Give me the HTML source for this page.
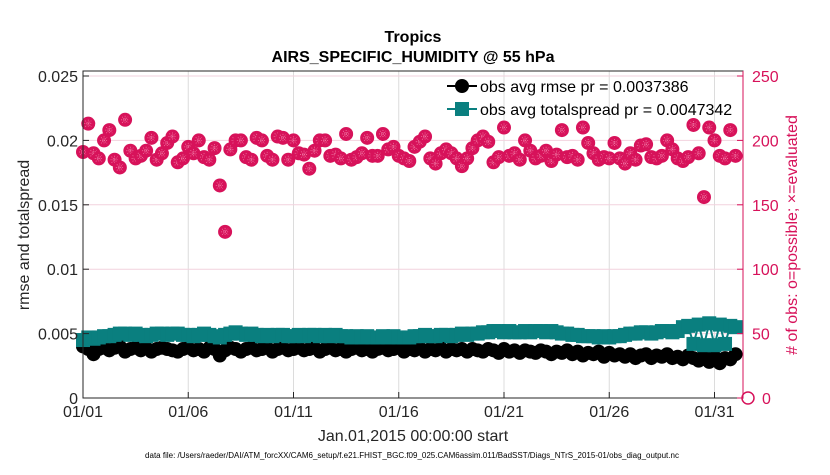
<!DOCTYPE html>
<html><head><meta charset="utf-8"><style>
body{margin:0;background:#fff;font-family:"Liberation Sans",sans-serif}
svg text{font-family:"Liberation Sans",sans-serif}
</style></head><body>
<svg width="830" height="470" viewBox="0 0 830 470" xmlns="http://www.w3.org/2000/svg">
<g id="grid"></g>
<g id="series"></g>
<g id="axes"></g>
</svg>
<script>
const dayTicks=["01/01","01/06","01/11","01/16","01/21","01/26","01/31"];
const tickDays=[0,5,10,15,20,25,30];
const leftTicks=[0,0.005,0.01,0.015,0.02,0.025];
const leftTickLabels=["0","0.005","0.01","0.015","0.02","0.025"];
const rightTicks=[0,50,100,150,200,250];
const obsCounts=[191,213,190,186,200,208,185,179,216,192,186,188,192,202,185,190,198,203,183,186,
195,190,200,187,185,194,165,129,193,200,200,187,185,202,200,188,185,203,202,185,
200,190,189,178,192,200,200,188,189,186,205,185,187,190,202,188,188,205,193,195,
188,186,184,195,199,203,186,182,190,193,190,186,180,186,194,200,203,199,183,187,
210,188,190,185,200,192,186,188,192,184,189,208,187,188,185,210,198,190,185,187,
186,198,186,182,190,185,196,197,187,186,188,200,193,186,184,187,212,190,156,210,
200,188,186,208,188];
const rmse=[0.0040,0.0038,0.0034,0.0038,0.0039,0.0037,0.0039,0.0040,0.0036,0.0038,0.0039,0.0037,0.0039,0.0036,0.0038,0.0039,0.0038,0.0037,0.0036,0.0038,
0.0039,0.0037,0.0038,0.0036,0.0039,0.0038,0.0033,0.0037,0.0039,0.0038,0.0036,0.0038,0.0039,0.0037,0.0038,0.0039,0.0036,0.0038,0.0039,0.0037,
0.0038,0.0039,0.0037,0.0038,0.0039,0.0036,0.0038,0.0039,0.0037,0.0038,0.0036,0.0038,0.0039,0.0037,0.0038,0.0036,0.0038,0.0039,0.0037,0.0038,
0.0039,0.0036,0.0038,0.0037,0.0039,0.0036,0.0038,0.0037,0.0039,0.0036,0.0038,0.0037,0.0038,0.0036,0.0038,0.0037,0.0036,0.0038,0.0037,0.0035,
0.0038,0.0036,0.0037,0.0035,0.0037,0.0036,0.0035,0.0037,0.0036,0.0034,0.0036,0.0035,0.0037,0.0034,0.0036,0.0033,0.0035,0.0034,0.0036,0.0032,
0.0035,0.0033,0.0034,0.0032,0.0034,0.0031,0.0033,0.0034,0.0031,0.0033,0.0032,0.0034,0.0031,0.0032,0.0030,0.0033,0.0031,0.0029,0.0033,0.0028,
0.0032,0.0027,0.0031,0.0030,0.0034];
const spread=[0.0045,0.0047,0.0046,0.0047,0.0048,0.0048,0.0049,0.0050,0.0050,0.0049,0.0050,0.0049,0.0048,0.0049,0.0050,0.0050,0.0049,0.0050,0.0050,0.0049,
0.0049,0.0048,0.0049,0.0050,0.0049,0.0048,0.0047,0.0049,0.0050,0.0051,0.0050,0.0049,0.0050,0.0049,0.0048,0.0049,0.0048,0.0049,0.0049,0.0048,
0.0048,0.0049,0.0048,0.0049,0.0049,0.0048,0.0049,0.0048,0.0049,0.0048,0.0048,0.0047,0.0048,0.0047,0.0048,0.0047,0.0047,0.0048,0.0047,0.0048,
0.0047,0.0047,0.0047,0.0048,0.0048,0.0049,0.0048,0.0048,0.0049,0.0049,0.0048,0.0049,0.0050,0.0049,0.0050,0.0050,0.0051,0.0051,0.0052,0.0052,
0.0051,0.0052,0.0051,0.0051,0.0052,0.0051,0.0052,0.0052,0.0051,0.0052,0.0051,0.0050,0.0050,0.0049,0.0049,0.0048,0.0048,0.0048,0.0047,0.0048,
0.0047,0.0048,0.0048,0.0049,0.0050,0.0050,0.0051,0.0051,0.0050,0.0051,0.0052,0.0052,0.0051,0.0052,0.0055,0.0056,0.0042,0.0057,0.0041,0.0058,
0.0041,0.0057,0.0042,0.0056,0.0055];
const X0=83,X1=743,Y0=398,YT=71,PXDAY=21.05;
const NS="http://www.w3.org/2000/svg";
function xs(i){return X0+i*PXDAY/4;}
function xd(d){return X0+d*PXDAY;}
function yl(v){return Y0-v*(Y0-76)/0.025;}
function yr(v){return Y0-v*(Y0-76)/250;}
function mk(tag,attrs,parent,txt){const e=document.createElementNS(NS,tag);for(const k in attrs)e.setAttribute(k,attrs[k]);if(txt!==undefined)e.textContent=txt;parent.appendChild(e);return e;}
const grid=document.getElementById('grid'),ser=document.getElementById('series'),ax=document.getElementById('axes');
mk('rect',{x:X0,y:YT,width:X1-X0,height:Y0-YT,fill:'#fff'},grid);
tickDays.forEach(d=>{const l=mk('line',{x1:xd(d),x2:xd(d),y1:YT,y2:Y0,stroke:'#dcdcdc','stroke-width':1},grid);

});
rightTicks.forEach(v=>{const l=mk('line',{x1:X0,x2:X1,y1:yr(v),y2:yr(v),stroke:'#f2d2de','stroke-width':1},grid);

});
obsCounts.forEach((c,i)=>{const g=mk('g',{},ser);


const cx=xs(i),cy=yr(c);mk('circle',{cx:cx,cy:cy,r:7,fill:'#d7125a'},g);
mk('path',{d:`M${cx-4} ${cy}H${cx+4}M${cx} ${cy-4}V${cy+4}M${cx-3} ${cy-3}L${cx+3} ${cy+3}M${cx-3} ${cy+3}L${cx+3} ${cy-3}`,stroke:'#f07aa5','stroke-width':0.8,'stroke-dasharray':'1 1'},g);});
let p='';spread.forEach((v,i)=>{p+=(i?'L':'M')+xs(i)+' '+yl(v);});
const sl=mk('path',{d:p,fill:'none',stroke:'#0a7f7f','stroke-width':2},ser);


let p2='';rmse.forEach((v,i)=>{p2+=(i?'L':'M')+xs(i)+' '+yl(v);});
const rl=mk('path',{d:p2,fill:'none',stroke:'#000','stroke-width':2},ser);


rmse.forEach((v,i)=>{const c=mk('circle',{cx:xs(i),cy:yl(v),r:7,fill:'#000'},ser);

});
spread.forEach((v,i)=>{const r=mk('rect',{x:xs(i)-7,y:yl(v)-7,width:14,height:14,fill:'#0a7f7f'},ser);

});
mk('rect',{x:X0,y:YT,width:X1-X0,height:Y0-YT,fill:'none',stroke:'#262626','stroke-width':1},ax);
mk('line',{x1:X1,x2:X1,y1:YT,y2:Y0,stroke:'#d7125a','stroke-width':1},ax);
tickDays.forEach((d,i)=>{const x=xd(d);mk('line',{x1:x,x2:x,y1:Y0,y2:Y0-6,stroke:'#262626'},ax);
const t=mk('text',{x:x,y:Y0+19,'font-size':16,'text-anchor':'middle',fill:'#262626'},ax,dayTicks[i]);

});
leftTicks.forEach((v,i)=>{const y=yl(v);mk('line',{x1:X0,x2:X0+6,y1:y,y2:y,stroke:'#262626'},ax);
const t=mk('text',{x:X0-5,y:y+6,'font-size':16,'text-anchor':'end',fill:'#262626'},ax,leftTickLabels[i]);

});
rightTicks.forEach(v=>{const y=yr(v);mk('line',{x1:X1,x2:X1-6,y1:y,y2:y,stroke:'#d7125a'},ax);
const t=mk('text',{x:v===0?X1+19:X1+9,y:y+6,'font-size':16,fill:'#d7125a'},ax,String(v));

});
mk('circle',{cx:X1+5,cy:Y0,r:6,fill:'none',stroke:'#d7125a','stroke-width':1.5},ax);
</script>
<svg style="position:absolute;left:0;top:0" width="830" height="470" xmlns="http://www.w3.org/2000/svg">
<text x="413" y="42" font-size="16" font-weight="bold" text-anchor="middle" fill="#000">Tropics</text>
<text x="413" y="62" font-size="16" font-weight="bold" text-anchor="middle" fill="#000">AIRS_SPECIFIC_HUMIDITY @ 55 hPa</text>
<text transform="translate(29,235) rotate(-90)" font-size="16" text-anchor="middle" fill="#262626">rmse and totalspread</text>
<text transform="translate(797,235) rotate(-90)" font-size="16" text-anchor="middle" fill="#d7125a"># of obs: o=possible; ×=evaluated</text>
<text x="413" y="441" font-size="16" text-anchor="middle" fill="#262626">Jan.01,2015 00:00:00 start</text>
<text x="412" y="458" font-size="8" text-anchor="middle" fill="#000">data file: /Users/raeder/DAI/ATM_forcXX/CAM6_setup/f.e21.FHIST_BGC.f09_025.CAM6assim.011/BadSST/Diags_NTrS_2015-01/obs_diag_output.nc</text>
<g>
<line x1="447" x2="477" y1="86" y2="86" stroke="#000" stroke-width="2"/>
<circle cx="462" cy="86" r="7" fill="#000"/>
<text x="480" y="92" font-size="16" fill="#000">obs avg rmse pr = 0.0037386</text>
<line x1="447" x2="477" y1="109" y2="109" stroke="#0a7f7f" stroke-width="2"/>
<rect x="455" y="102" width="14" height="14" fill="#0a7f7f"/>
<text x="480" y="115" font-size="16" fill="#000">obs avg totalspread pr = 0.0047342</text>
</g>
</svg>
</body></html>
